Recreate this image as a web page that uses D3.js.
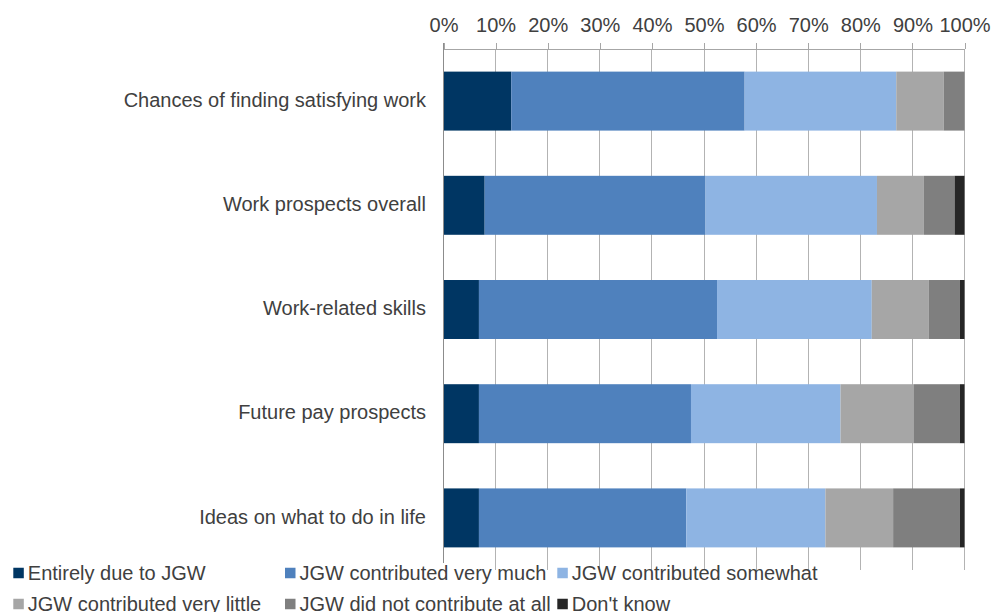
<!DOCTYPE html>
<html>
<head>
<meta charset="utf-8">
<script src="https://cdn.jsdelivr.net/npm/d3@7"></script>
<style>
  body { margin: 0; background: #fff; }
  text { font-family: "Liberation Sans", Arial, sans-serif; fill: #404040; }
</style>
</head>
<body>
<svg id="chart" width="991" height="612"></svg>
<script>
// Survey items, top to bottom
const categories = [
  "Chances of finding satisfying work",
  "Work prospects overall",
  "Work-related skills",
  "Future pay prospects",
  "Ideas on what to do in life"
];

// Response categories, in stacking order
const seriesNames = [
  "Entirely due to JGW",
  "JGW contributed very much",
  "JGW contributed somewhat",
  "JGW contributed very little",
  "JGW did not contribute at all",
  "Don't know"
];

// Share of respondents (%) per item, one array per response
const entirely   = [13.0,  7.9,  6.8,  6.8,  6.8];
const veryMuch   = [44.8, 42.4, 45.7, 40.7, 39.8];
const somewhat   = [29.1, 32.9, 29.7, 28.7, 26.7];
const veryLittle = [ 9.1,  9.0, 10.9, 14.0, 13.0];
const notAtAll   = [ 4.0,  5.9,  6.0,  8.9, 12.8];
const dontKnow   = [ 0.0,  1.9,  0.9,  0.9,  0.9];

const tickValues = [0, 10, 20, 30, 40, 50, 60, 70, 80, 90, 100];

const colors = ["#003663", "#4f81bd", "#8eb4e3", "#a6a6a6", "#7f7f7f", "#262626"];

const seriesValues = [entirely, veryMuch, somewhat, veryLittle, notAtAll, dontKnow];
const rows = categories.map((c, i) => {
  const r = { category: c };
  seriesNames.forEach((s, k) => { r[s] = seriesValues[k][i]; });
  return r;
});

const svg = d3.select("#chart");
const fontSize = 20;

const x = d3.scaleLinear().domain([0, 100]).range([443.5, 964.5]);
const y = d3.scaleBand().domain(categories).range([49, 570]).paddingInner(0.434).paddingOuter(0.217);

const stack = d3.stack().keys(seriesNames);
const layers = stack(rows);

// Vertical gridlines
svg.append("g")
  .selectAll("line")
  .data(tickValues.slice(1))
  .join("line")
  .attr("x1", d => x(d)).attr("x2", d => x(d))
  .attr("y1", 49).attr("y2", 570)
  .attr("stroke", "#b3b3b3").attr("stroke-width", 1)
  .attr("shape-rendering", "crispEdges");

// Bars
svg.append("g")
  .selectAll("g")
  .data(layers)
  .join("g")
  .attr("fill", (d, i) => colors[i])
  .selectAll("rect")
  .data(d => d)
  .join("rect")
  .attr("x", d => x(d[0]))
  .attr("width", d => Math.max(0, x(d[1]) - x(d[0])))
  .attr("y", d => y(d.data.category))
  .attr("height", y.bandwidth());

// Top percentage axis
const xAxis = d3.axisTop(x)
  .tickValues(tickValues)
  .tickFormat(d => d + "%")
  .tickSize(6)
  .tickSizeOuter(0)
  .tickPadding(11);

const gx = svg.append("g").attr("transform", "translate(0,49)").call(xAxis);
gx.select(".domain").attr("stroke", "#a6a6a6").attr("shape-rendering", "crispEdges");
gx.selectAll(".tick line").attr("stroke", "#a6a6a6").attr("shape-rendering", "crispEdges");
gx.selectAll(".tick text")
  .style("font-size", fontSize + "px")
  .style("font-family", "'Liberation Sans', Arial, sans-serif")
  .attr("fill", "#404040");

// Left category axis line
svg.append("line")
  .attr("x1", x(0)).attr("x2", x(0))
  .attr("y1", 43).attr("y2", 563)
  .attr("stroke", "#8c8c8c")
  .attr("shape-rendering", "crispEdges");

// Category labels
svg.append("g")
  .selectAll("text")
  .data(categories)
  .join("text")
  .attr("x", x(0) - 17.5)
  .attr("y", d => y(d) + y.bandwidth() / 2)
  .attr("dy", "0.28em")
  .attr("text-anchor", "end")
  .style("font-size", fontSize + "px")
  .text(d => d);

// Legend: two rows of three
const legendCols = [13.3, 285, 557.3];
const legendRows = [573, 604];
const legend = svg.append("g")
  .selectAll("g")
  .data(seriesNames)
  .join("g")
  .attr("transform", (d, i) => `translate(${legendCols[i % 3]},${legendRows[Math.floor(i / 3)]})`);

legend.append("rect")
  .attr("x", 0).attr("y", -5.25)
  .attr("width", 10.5).attr("height", 10.5)
  .attr("fill", (d, i) => colors[i]);

legend.append("text")
  .attr("x", 14.5)
  .attr("y", 0)
  .attr("dy", "0.34em")
  .style("font-size", fontSize + "px")
  .text(d => d);
</script>
</body>
</html>
